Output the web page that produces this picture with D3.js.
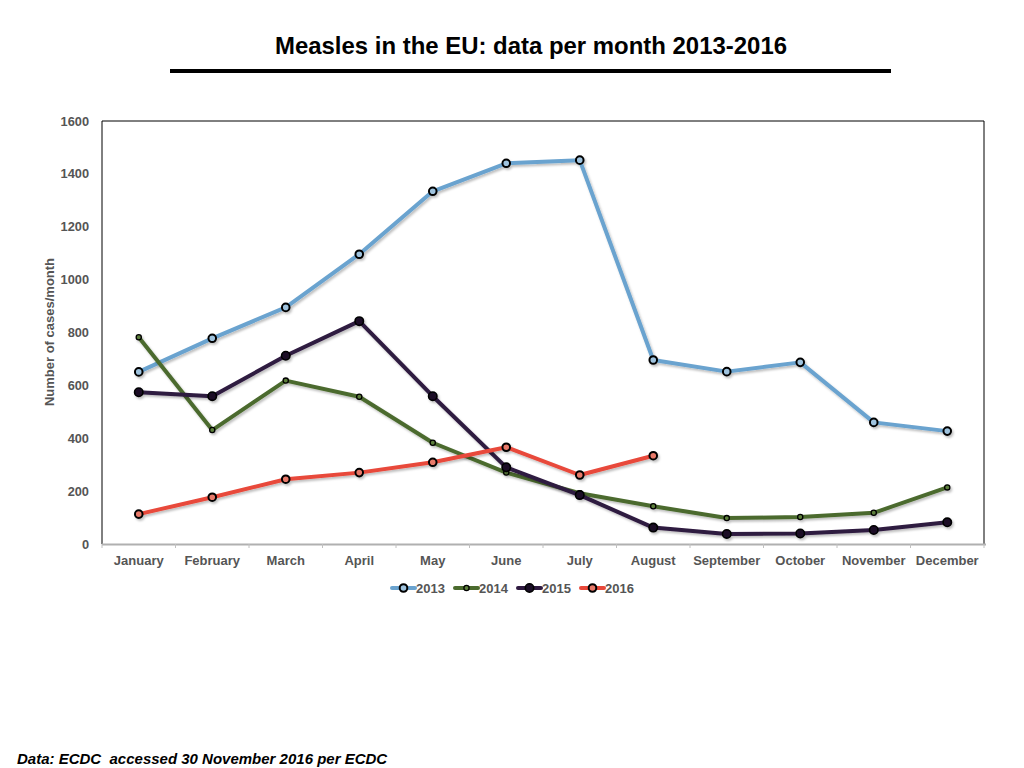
<!DOCTYPE html>
<html>
<head>
<meta charset="utf-8">
<script src="https://cdn.jsdelivr.net/npm/d3@7/dist/d3.min.js"></script>
<style>
  html, body { margin: 0; padding: 0; background: #fff; }
  svg { display: block; }
</style>
</head>
<body>
<svg id="chart" width="1024" height="768"></svg>
<script>
const months = ["January","February","March","April","May","June","July","August","September","October","November","December"];
const yTicks = [0, 200, 400, 600, 800, 1000, 1200, 1400, 1600];
const years = ["2013","2014","2015","2016"];
const s2013 = [651, 778, 895, 1096, 1334, 1440, 1452, 696, 652, 687, 460, 427];
const s2014 = [782, 431, 618, 557, 383, 270, 192, 143, 98, 102, 118, 214];
const s2015 = [574, 559, 712, 843, 559, 290, 185, 62, 38, 40, 53, 82];
const s2016 = [113, 177, 245, 270, 309, 366, 261, 334];
const colors = ["#6aa3cf", "#4b6b2e", "#2f1a40", "#e8483a"];
const markerR = [3.8, 2.6, 4.2, 3.8];
const markerSW = [2, 1.3, 1.6, 2];
const markerFill = ["#9fc3de", "#5d7f3c", "#1a0d26", "#e87a6a"];

const series = [s2013, s2014, s2015, s2016];

const svg = d3.select("#chart");
const m = {left: 102, right: 984, top: 121, bottom: 544};

const x = d3.scaleBand().domain(months).range([m.left, m.right]);
const y = d3.scaleLinear().domain([0, 1600]).range([m.bottom, m.top]);

const defs = svg.append("defs");
const f = defs.append("filter").attr("id", "shadow").attr("x", "-10%").attr("y", "-10%").attr("width", "120%").attr("height", "130%");
f.append("feDropShadow").attr("dx", 1.5).attr("dy", 2).attr("stdDeviation", 1.2).attr("flood-color", "#000").attr("flood-opacity", 0.25);

// Title
svg.append("text")
  .attr("x", 531).attr("y", 54)
  .attr("text-anchor", "middle")
  .attr("font-family", "'Liberation Sans Narrow', 'Liberation Sans', Arial, sans-serif")
  .attr("font-weight", "bold")
  .attr("font-size", 24)
  .attr("textLength", 512)
  .attr("lengthAdjust", "spacingAndGlyphs")
  .attr("fill", "#000")
  .text("Measles in the EU: data per month 2013-2016");

svg.append("line")
  .attr("x1", 170).attr("x2", 891).attr("y1", 71).attr("y2", 71)
  .attr("stroke", "#000").attr("stroke-width", 4);

// Frame: left, top, right black
svg.append("path")
  .attr("d", `M${m.left},${m.bottom}V${m.top}H${m.right}V${m.bottom}`)
  .attr("fill", "none").attr("stroke", "#000").attr("stroke-width", 1);

// Bottom axis
const xAxis = svg.append("g").attr("transform", `translate(0,${m.bottom})`);
xAxis.append("line").attr("x1", m.left).attr("x2", m.right + 2).attr("y1", 0.5).attr("y2", 0.5)
  .attr("stroke", "#b0b0b0").attr("stroke-width", 2);
const bounds = months.map(d => x(d)).concat([m.right]);
xAxis.selectAll("line.tk").data(bounds).enter().append("line").attr("class", "tk")
  .attr("x1", d => d).attr("x2", d => d).attr("y1", 0).attr("y2", 4)
  .attr("stroke", "#c0c0c0").attr("stroke-width", 1);
xAxis.selectAll("text").data(months).enter().append("text")
  .attr("x", d => x(d) + x.bandwidth() / 2)
  .attr("y", 21)
  .attr("text-anchor", "middle")
  .attr("font-family", "'Liberation Sans', Arial, sans-serif")
  .attr("font-weight", "bold")
  .attr("font-size", 13)
  .attr("fill", "#555")
  .text(d => d);

// Y axis labels
svg.append("g").selectAll("text").data(yTicks).enter().append("text")
  .attr("x", 89)
  .attr("y", d => y(d) + 4.5)
  .attr("text-anchor", "end")
  .attr("font-family", "'Liberation Sans', Arial, sans-serif")
  .attr("font-weight", "bold")
  .attr("font-size", 12.8)
  .attr("fill", "#555")
  .text(d => d);

svg.append("text")
  .attr("transform", `translate(54,332) rotate(-90)`)
  .attr("text-anchor", "middle")
  .attr("font-family", "'Liberation Sans', Arial, sans-serif")
  .attr("font-weight", "bold")
  .attr("font-size", 13)
  .attr("fill", "#555")
  .text("Number of cases/month");

// Lines
const line = d3.line()
  .x((d, i) => x(months[i]) + x.bandwidth() / 2)
  .y(d => y(d));

[0, 1, 2, 3].forEach(k => {
  const g = svg.append("g").attr("filter", "url(#shadow)");
  g.append("path")
    .datum(series[k])
    .attr("d", line)
    .attr("fill", "none")
    .attr("stroke", colors[k])
    .attr("stroke-width", 4)
    .attr("stroke-linejoin", "round")
    .attr("stroke-linecap", "round");
  g.selectAll("circle").data(series[k]).enter().append("circle")
    .attr("cx", (d, i) => x(months[i]) + x.bandwidth() / 2)
    .attr("cy", d => y(d))
    .attr("r", markerR[k])
    .attr("fill", markerFill[k])
    .attr("stroke", "#000")
    .attr("stroke-width", markerSW[k]);
});

// Legend
const legend = svg.append("g");
const legX = [392, 455, 518, 581];
years.forEach((yr, k) => {
  const gx = legX[k];
  const gy = 588;
  legend.append("line").attr("x1", gx).attr("x2", gx + 23).attr("y1", gy).attr("y2", gy)
    .attr("stroke", colors[k]).attr("stroke-width", 4).attr("stroke-linecap", "round");
  legend.append("circle").attr("cx", gx + 11.5).attr("cy", gy).attr("r", markerR[k])
    .attr("fill", markerFill[k]).attr("stroke", "#000").attr("stroke-width", markerSW[k]);
  legend.append("text").attr("x", gx + 24).attr("y", gy + 4.5)
    .attr("font-family", "'Liberation Sans', Arial, sans-serif")
    .attr("font-weight", "bold")
    .attr("font-size", 13)
    .attr("fill", "#555")
    .text(yr);
});

// Footer
svg.append("text")
  .attr("x", 17).attr("y", 764)
  .attr("font-family", "'Liberation Sans', Arial, sans-serif")
  .attr("font-weight", "bold")
  .attr("font-style", "italic")
  .attr("font-size", 15)
  .attr("fill", "#000")
  .style("white-space", "pre")
  .text("Data: ECDC  accessed 30 November 2016 per ECDC");
</script>
</body>
</html>
